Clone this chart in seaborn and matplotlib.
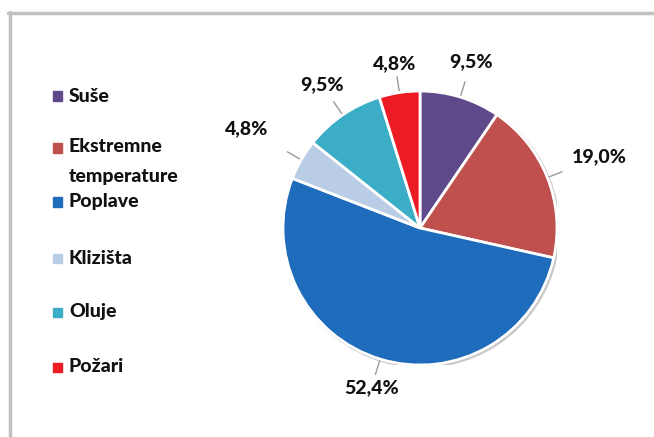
import numpy as np
import matplotlib
matplotlib.use("Agg")
import matplotlib.pyplot as plt
import seaborn as sns
from matplotlib.patches import Rectangle, Circle
from matplotlib.lines import Line2D

sns.set_theme(style="white")
plt.rcParams["font.family"] = ["Lato", "DejaVu Sans"]

categories = ["Suše", "Ekstremne\ntemperature", "Poplave", "Klizišta", "Oluje", "Požari"]
shares = [9.5, 19.0, 52.4, 4.8, 9.5, 4.8]
pct_labels = ["9,5%", "19,0%", "52,4%", "4,8%", "9,5%", "4,8%"]
colors = ["#5e4a8a", "#c0504d", "#1f6cbc", "#b9cde6", "#3badc6", "#ec1c24"]

# distance of each percent label from the centre (pie radius = 1)
label_dist = [1.27, 1.41, 1.22, 1.46, 1.27, 1.21]

W, H = 654, 437
fig = plt.figure(figsize=(W / 100, H / 100), dpi=100)

# pie centre (420, 228) px, radius 137 px
cx, cy, r = 420, 228, 137
ax = fig.add_axes([(cx - r) / W, (H - cy - r) / H, 2 * r / W, 2 * r / H])

ax.add_patch(Circle((0.012, -0.012), 1.005, color="#c8c8c8", zorder=0))
wedges, _ = ax.pie(shares, colors=colors, startangle=90, counterclock=False,
                   wedgeprops=dict(edgecolor="white", linewidth=2))

for w, lab, d in zip(wedges, pct_labels, label_dist):
    ang = np.deg2rad((w.theta1 + w.theta2) / 2)
    ca, sa = np.cos(ang), np.sin(ang)
    ax.plot([1.01 * ca, 1.12 * ca], [1.01 * sa, 1.12 * sa], color="#9a9a9a",
            lw=1, solid_capstyle="butt", clip_on=False)
    ax.text(d * ca, d * sa, lab, ha="center", va="center", fontsize=14,
            fontweight="black", color="#111111")

ax.set_xlim(-1, 1)
ax.set_ylim(-1, 1)
ax.set_aspect("equal")
ax.axis("off")

# legend on the left
legend_y = [96, 148, 202, 258, 312, 367]
for name, col, y in zip(categories, colors, legend_y):
    s = 9
    fig.patches.append(Rectangle(((57 - s / 2) / W, (H - y - s / 2) / H), s / W, s / H,
                                 transform=fig.transFigure, color=col))
    if "\n" in name:
        fig.text(69 / W, (H - y + 10) / H, name, ha="left", va="top",
                 fontsize=14, fontweight="black", color="#111111", linespacing=1.9,
                 transform=fig.transFigure)
    else:
        fig.text(69 / W, (H - y) / H, name, ha="left", va="center",
                 fontsize=14, fontweight="black", color="#111111",
                 transform=fig.transFigure)

# grey frame (top and left sides)
fig.add_artist(Line2D([8 / W, 1], [(H - 13) / H, (H - 13) / H], color="#c0c0c0",
                      lw=2.5, transform=fig.transFigure))
fig.add_artist(Line2D([9.5 / W, 9.5 / W], [0, (H - 12) / H], color="#c0c0c0",
                      lw=2.5, transform=fig.transFigure))

fig.savefig("out.png", dpi=100)
